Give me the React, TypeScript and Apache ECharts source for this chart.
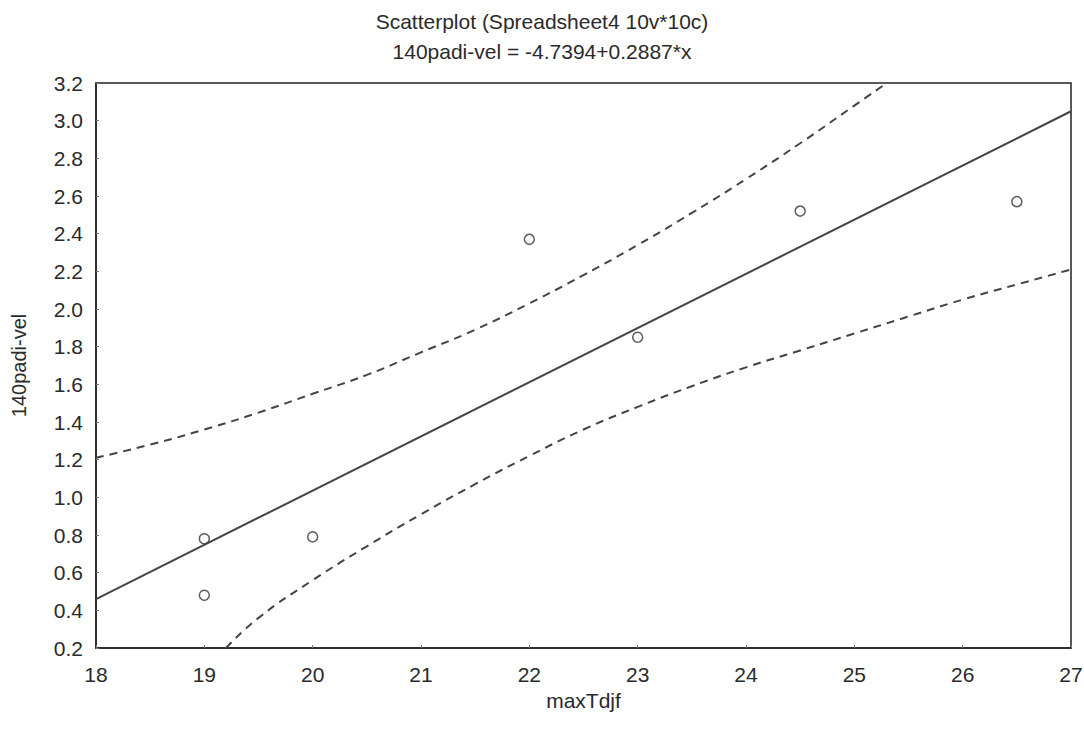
import React, { useEffect, useRef } from "react";
import * as echarts from "echarts";

const titleLine1 = "Scatterplot (Spreadsheet4 10v*10c)";
const titleLine2 = "140padi-vel = -4.7394+0.2887*x";
const xName = "maxTdjf";
const yName = "140padi-vel";

const pointsX = [19, 19, 20, 22, 23, 24.5, 26.5];
const pointsY = [0.78, 0.48, 0.79, 2.37, 1.85, 2.52, 2.57];

const fitX = [18, 27];
const fitY = [0.46, 3.05];

const upperX = [18, 18.5, 19, 19.5, 20, 20.5, 21, 21.5, 22, 22.5, 23, 23.5, 24, 24.5, 25, 25.3];
const upperY = [1.21, 1.28, 1.36, 1.45, 1.55, 1.65, 1.77, 1.89, 2.03, 2.18, 2.34, 2.51, 2.69, 2.88, 3.08, 3.2];

const lowerX = [19.2, 19.5, 20, 20.5, 21, 21.5, 22, 22.5, 23, 23.5, 24, 24.5, 25, 25.5, 26, 26.5, 27];
const lowerY = [0.2, 0.36, 0.56, 0.74, 0.91, 1.07, 1.22, 1.36, 1.48, 1.59, 1.69, 1.78, 1.87, 1.96, 2.05, 2.13, 2.21];

const zip = (xs: number[], ys: number[]) => xs.map((x, i) => [x, ys[i]]);

export default function App() {
  const ref = useRef<HTMLDivElement>(null);
  useEffect(() => {
    if (!ref.current) return;
    const chart = echarts.init(ref.current, null, { renderer: "svg" });
    const font = "Liberation Sans, Arial, sans-serif";
    const txt = "#2a2a2a";
    chart.setOption({
      animation: false,
      backgroundColor: "#ffffff",
      textStyle: { fontFamily: font },
      title: [
        {
          text: titleLine1,
          left: "center",
          top: 6,
          textStyle: { fontSize: 21, fontWeight: "normal", color: txt, fontFamily: font },
        },
        {
          text: titleLine2,
          left: "center",
          top: 36,
          textStyle: { fontSize: 21, fontWeight: "normal", color: txt, fontFamily: font },
        },
      ],
      grid: {
        left: 96,
        right: 13,
        top: 83,
        bottom: 83,
        outerBoundsMode: "none",
        containLabel: false,
        show: true,
        borderColor: "#222",
        borderWidth: 1.5,
        backgroundColor: "transparent",
      },
      xAxis: {
        type: "value",
        min: 18,
        max: 27,
        interval: 1,
        name: xName,
        nameLocation: "middle",
        nameGap: 38,
        nameTextStyle: { fontSize: 21, color: txt, fontFamily: font },
        axisLine: { show: true, lineStyle: { color: "#222", width: 1.5 } },
        axisTick: { show: true, inside: true, length: 3, lineStyle: { color: "#777" } },
        axisLabel: { fontSize: 21, color: txt, margin: 16, fontFamily: font },
        splitLine: { show: false },
      },
      yAxis: {
        type: "value",
        min: 0.2,
        max: 3.2,
        interval: 0.2,
        name: yName,
        nameLocation: "middle",
        nameGap: 67,
        nameRotate: 90,
        nameTextStyle: { fontSize: 20, color: txt, fontFamily: font },
        axisLine: { show: true, lineStyle: { color: "#222", width: 1.5 } },
        axisTick: { show: true, inside: true, length: 3, lineStyle: { color: "#777" } },
        axisLabel: {
          fontSize: 21,
          color: txt,
          margin: 13,
          fontFamily: font,
          formatter: (v: number) => v.toFixed(1),
        },
        splitLine: { show: false },
      },
      series: [
        {
          type: "line",
          data: zip(upperX, upperY),
          smooth: true,
          showSymbol: false,
          clip: true,
          lineStyle: { color: "#444", width: 2, type: [8, 6] },
        },
        {
          type: "line",
          data: zip(lowerX, lowerY),
          smooth: true,
          showSymbol: false,
          clip: true,
          lineStyle: { color: "#444", width: 2, type: [8, 6] },
        },
        {
          type: "line",
          data: zip(fitX, fitY),
          showSymbol: false,
          clip: true,
          lineStyle: { color: "#444", width: 2 },
        },
        {
          type: "scatter",
          data: zip(pointsX, pointsY),
          symbol: "circle",
          symbolSize: 10,
          itemStyle: { color: "#ffffff", borderColor: "#333", borderWidth: 1.5 },
        },
      ],
    });
    return () => chart.dispose();
  }, []);
  return (
    <div
      ref={ref}
      style={{ position: "fixed", left: 0, top: 0, width: 1084, height: 731 }}
    />
  );
}
